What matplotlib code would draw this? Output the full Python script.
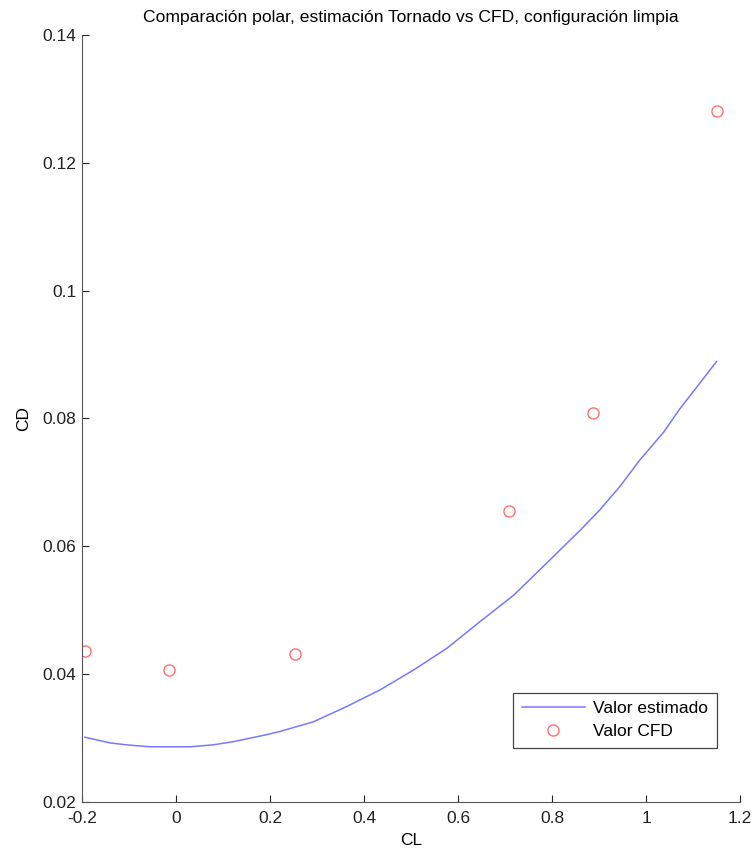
import numpy as np
import matplotlib.pyplot as plt

plt.rcParams['font.family'] = ['Liberation Sans', 'DejaVu Sans']
plt.rcParams['font.size'] = 12

# curva estimada (Tornado)
cl_est = [-0.194, -0.140, -0.105, -0.055, 0.030, 0.079, 0.122, 0.193, 0.221,
          0.292, 0.363, 0.434, 0.505, 0.576, 0.647, 0.718, 0.774, 0.817,
          0.860, 0.902, 0.945, 0.987, 1.037, 1.072, 1.108, 1.150]
cd_est = [0.0301, 0.0292, 0.0289, 0.0286, 0.0286, 0.0289, 0.0294, 0.0305, 0.0310,
          0.0325, 0.0349, 0.0375, 0.0406, 0.0440, 0.0482, 0.0523, 0.0563, 0.0594,
          0.0625, 0.0657, 0.0694, 0.0735, 0.0778, 0.0815, 0.0849, 0.0889]

# puntos CFD
cl_cfd = [-0.194, -0.015, 0.253, 0.709, 0.888, 1.151]
cd_cfd = [0.0436, 0.0406, 0.0431, 0.0655, 0.0809, 0.1281]

fig = plt.figure(figsize=(7.54, 8.51), dpi=100)
ax = fig.add_axes([0.1088, 0.0579, 0.8727, 0.901])

ax.plot(cl_est, cd_est, color='#7878ff', lw=1.1, label='Valor estimado')
ax.plot(cl_cfd, cd_cfd, 'o', mfc='none', mec='#ff7070', ms=8, mew=1.0,
        label='Valor CFD')

ax.set_xlim(-0.2, 1.2)
ax.set_ylim(0.02, 0.14)
ax.set_xticks(np.arange(-0.2, 1.21, 0.2))
ax.set_xticklabels(['-0.2', '0', '0.2', '0.4', '0.6', '0.8', '1', '1.2'])
ax.set_yticks(np.arange(0.02, 0.141, 0.02))
ax.set_yticklabels(['0.02', '0.04', '0.06', '0.08', '0.1', '0.12', '0.14'])
ax.tick_params(direction='in', length=5, width=0.8, labelsize=12.5, colors='#222222')
ax.tick_params(axis='x', pad=7)
ax.tick_params(axis='y', pad=4)
ax.spines['top'].set_visible(False)
ax.spines['right'].set_visible(False)
for s in ['left', 'bottom']:
    ax.spines[s].set_color('#555555')

ax.set_title('Comparación polar, estimación Tornado vs CFD, configuración limpia',
             fontsize=12.6, pad=9)
ax.set_xlabel('CL', fontsize=12.5, labelpad=5)
ax.set_ylabel('CD', fontsize=12.5, labelpad=8)

leg = ax.legend(loc='lower right', bbox_to_anchor=(0.965, 0.070), fancybox=False,
                framealpha=1, edgecolor='#444444', fontsize=12.5, borderpad=0.5,
                handlelength=3.6, handletextpad=0.5, labelspacing=0.45,
                borderaxespad=0)
leg.get_frame().set_linewidth(0.9)

fig.savefig('out.png', dpi=100)
